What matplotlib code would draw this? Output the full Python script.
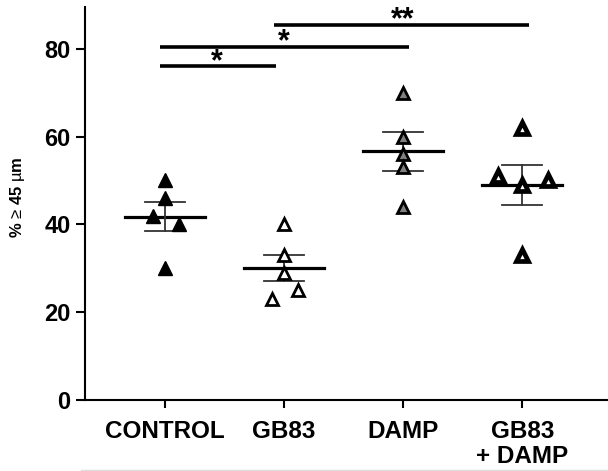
import matplotlib
matplotlib.use("Agg")
import matplotlib.pyplot as plt
from matplotlib.lines import Line2D
import numpy as np

plt.rcParams['font.family'] = ['Liberation Sans', 'DejaVu Sans']
plt.rcParams['mathtext.fontset'] = 'custom'
plt.rcParams['mathtext.rm'] = 'Liberation Sans'
plt.rcParams['mathtext.bf'] = 'Liberation Sans:bold'
plt.rcParams['mathtext.it'] = 'Liberation Sans:italic'

categories = ["CONTROL", "GB83", "DAMP", "GB83\n+ DAMP"]
control = [50, 46, 42, 40, 30]
control_dx = [0, 0, -0.1, 0.12, 0]
gb83 = [40, 33, 29, 25, 23]
gb83_dx = [0, 0, 0, 0.12, -0.1]
damp = [70, 60, 56, 53, 44]
damp_dx = [0, 0, 0, 0, 0]
gbdamp = [62, 51, 49, 50, 33]
gbdamp_dx = [0, -0.2, 0, 0.22, 0]

means = [41.7, 30.0, 56.6, 49.0]
sems = [3.3, 3.0, 4.4, 4.6]

sig_pairs = [(0, 1), (0, 2), (1, 3)]
sig_y = [76, 80.5, 85.5]
sig_labels = ["*", "*", "**"]
sig_start_off = [-0.04, -0.04, -0.08]
sig_end_off = [-0.07, 0.05, 0.06]

fig = plt.figure(figsize=(6.08, 4.71), dpi=100)
ax = fig.add_axes([85/608, 71/471, 1 - 85/608, (400 - 7)/471])

groups = [control, gb83, damp, gbdamp]
dxs = [control_dx, gb83_dx, damp_dx, gbdamp_dx]
faces = ["black", "white", "#808080", "white"]
edgew = [1.0, 2.0, 2.0, 3.4]
ms = [9.5, 9, 9, 8.5]

for i, (vals, dx) in enumerate(zip(groups, dxs)):
    xs = [i + d for d in dx]
    ax.plot(xs, vals, linestyle='none', marker='^', markersize=ms[i],
            markerfacecolor=faces[i], markeredgecolor='black',
            markeredgewidth=edgew[i], zorder=3)
    ax.plot([i - 0.335, i + 0.335], [means[i], means[i]], color='black', lw=2.3, zorder=2)
    ecol = '#333333'
    ax.plot([i, i], [means[i] - sems[i], means[i] + sems[i]], color=ecol, lw=1.3, zorder=2)
    for yy in (means[i] - sems[i], means[i] + sems[i]):
        ax.plot([i - 0.17, i + 0.17], [yy, yy], color=ecol, lw=1.3, zorder=2)

for (a, b), yv, lab, so, eo in zip(sig_pairs, sig_y, sig_labels, sig_start_off, sig_end_off):
    ax.plot([a + so, b + eo], [yv, yv], color='black', lw=2.6, solid_capstyle='butt')
    xm = (a + b) / 2 - (0.06 if (a, b) == (0, 1) else 0.0)
    ax.annotate(lab, xy=(xm, yv), xytext=(0, -4), textcoords='offset pixels',
                ha='center', va='baseline', fontsize=22, fontweight='bold')

ax.set_xlim(-0.67, 3.72)
ax.set_ylim(0, 89.5)
ax.set_yticks([0, 20, 40, 60, 80])
ax.set_xticks(range(4))
ax.set_xticklabels(categories, fontsize=17.5, fontweight='bold', linespacing=1.1)
for t in ax.get_yticklabels():
    t.set_fontsize(17)
    t.set_fontweight('bold')
ax.spines['top'].set_visible(False)
ax.spines['right'].set_visible(False)
ax.spines['left'].set_linewidth(1.5)
ax.spines['bottom'].set_linewidth(1.5)
ax.tick_params(axis='y', width=1.5, length=6.5, pad=4)
ax.tick_params(axis='x', width=1.5, length=5.5, pad=9)
ax.set_ylabel(r'$\mathbf{\%}$ ≥ $\mathbf{45}$ µ$\mathbf{m}$', fontsize=12)
ax.yaxis.set_label_coords(-0.111, 0.517)

fig.add_artist(Line2D([81/608, 1], [1 - 470/471, 1 - 470/471], color='#dddddd', lw=1))

fig.savefig("out.png", dpi=100)
